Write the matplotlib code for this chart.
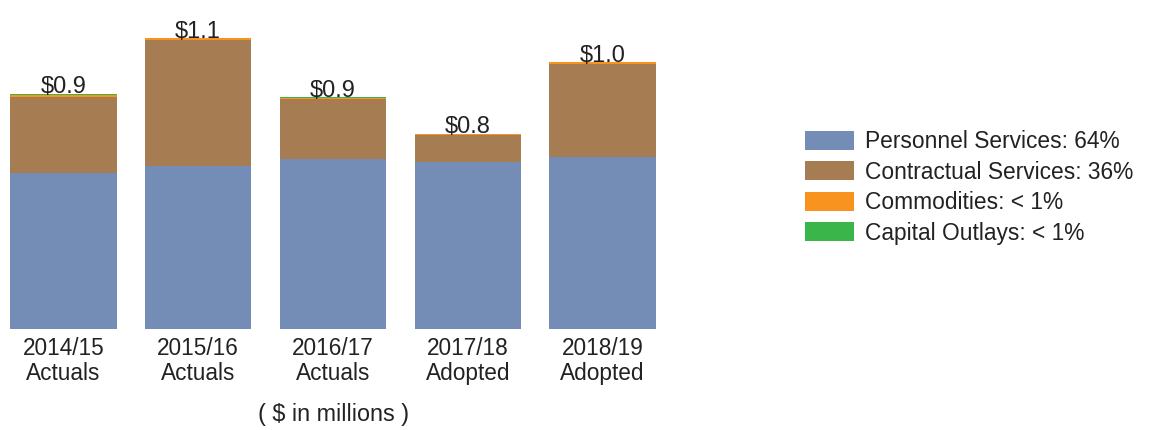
import matplotlib
matplotlib.use("Agg")
import matplotlib.pyplot as plt
import numpy as np
from matplotlib.patches import Patch

plt.rcParams['font.family'] = ['Liberation Sans', 'DejaVu Sans']

categories = ["2014/15\nActuals", "2015/16\nActuals", "2016/17\nActuals", "2017/18\nAdopted", "2018/19\nAdopted"]
personnel = [0.605, 0.633, 0.658, 0.648, 0.666]
contractual = [0.296, 0.487, 0.234, 0.102, 0.362]
commodities = [0.006, 0.007, 0.002, 0.006, 0.006]
capital = [0.005, 0.0, 0.005, 0.0, 0.0]
total_labels = ["$0.9", "$1.1", "$0.9", "$0.8", "$1.0"]
legend_labels = ["Personnel Services: 64%", "Contractual Services: 36%",
                 "Commodities: < 1%", "Capital Outlays: < 1%"]
colors = ["#738DB6", "#A67C52", "#F7931E", "#3AB54A"]

fig = plt.figure(figsize=(11.57, 4.30), dpi=100)
ax = fig.add_axes([0.0, 101/430, 670/1157, 1.2*258/430])

x = np.arange(len(categories))
series = [personnel, contractual, commodities, capital]
bottom = np.zeros(len(categories))
for vals, c in zip(series, colors):
    ax.bar(x, vals, width=0.79, bottom=bottom, color=c, edgecolor='none')
    bottom = bottom + np.array(vals)

for xi, tot, lab in zip(x, bottom, total_labels):
    ax.text(xi, tot + 0.002, lab, ha='center', va='baseline', fontsize=17, color='#222222')

ax.set_xlim(-0.47, 4.5)
ax.set_ylim(0, 1.2)
ax.set_xticks(x)
ax.set_xticklabels(categories, fontsize=16.3, color='#222222', linespacing=1.1)
ax.tick_params(axis='x', length=0, pad=6)
ax.set_yticks([])
for s in ax.spines.values():
    s.set_visible(False)

fig.text(334/1157, 1 - 414/430, "( $ in millions )", ha='center', va='center', fontsize=16.8, color='#222222')

handles = [Patch(facecolor=c, edgecolor='none') for c in colors]
fig.legend(handles, legend_labels, loc='upper left', bbox_to_anchor=(805/1157, 1 - 130/430),
           frameon=False, fontsize=16.4, handlelength=2.15, handleheight=0.92,
           handletextpad=0.5, labelspacing=0.33, borderpad=0, borderaxespad=0,
           labelcolor='#222222')

fig.savefig("out.png", dpi=100)
